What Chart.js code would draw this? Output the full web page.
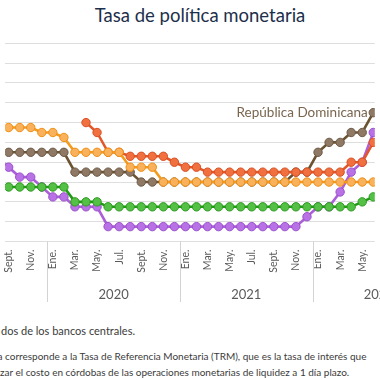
<!DOCTYPE html>
<html><head><meta charset="utf-8">
<script src="https://cdn.jsdelivr.net/npm/chart.js@4"></script>
<style>
html,body{margin:0;padding:0;background:#fff}
body{width:380px;height:380px;overflow:hidden;position:relative;font-family:Lato,"Open Sans",sans-serif}
#title{position:absolute;top:4px;left:0;width:400px;text-align:center;font-size:18.5px;line-height:22px;color:#1d2f4b;white-space:nowrap}
#wrap{position:absolute;left:0;top:0;width:380px;height:310px}
.note{position:absolute;white-space:nowrap;color:#3b3b3b;line-height:14px}
</style></head>
<body>
<div id="title">Tasa de política monetaria</div>
<div id="wrap"><canvas id="c" width="380" height="310"></canvas></div>
<div class="note" style="left:1px;top:324px;font-size:11px">dos de los bancos centrales.</div>
<div class="note" style="left:-2.5px;top:349px;font-size:10px">a corresponde a la Tasa de Referencia Monetaria (TRM), que es la tasa de interés que</div>
<div class="note" style="left:0px;top:365px;font-size:10px">zar el costo en córdobas de las operaciones monetarias de liquidez a 1 día plazo.</div>
<script>
// Months from Ago. 2019 to Jun. 2022
const monthLabels = ['Ago.','Sept.','Oct.','Nov.','Dic.',
  'Ene.','Feb.','Mar.','Abr.','May.','Jun.','Jul.','Ago.','Sept.','Oct.','Nov.','Dic.',
  'Ene.','Feb.','Mar.','Abr.','May.','Jun.','Jul.','Ago.','Sept.','Oct.','Nov.','Dic.',
  'Ene.','Feb.','Mar.','Abr.','May.','Jun.'];
const yearLabels = ['2020','2021','2022'];

const honduras = [5.75,5.75,5.75,5.75,5.5,5.5,5.25,4.5,4.5,4.5,4.5,4.5,3.75,3.75,3.75,
  3,3,3,3,3,3,3,3,3,3,3,3,3,3,3,3,3,3,3,3];
const nicaragua = [null,null,null,null,null,null,null,null,6.0,5.5,4.5,4.5,4.3,4.3,4.3,4.3,4.0,3.75,3.75,
  3.5,3.5,3.5,3.5,3.5,3.5,3.5,3.5,3.5,3.5,3.5,3.5,3.5,4.0,4.0,5.0];
const dominicana = [4.5,4.5,4.5,4.5,4.5,4.5,4.5,3.5,3.5,3.5,3.5,3.5,3.5,
  3,3,3,3,3,3,3,3,3,3,3,3,3,3,3.5,3.5,4.5,5.0,5.0,5.5,5.5,6.5];
const guatemala = [2.75,2.75,2.75,2.75,2.75,2.75,2.75,2.0,2.0,2.0,
  1.75,1.75,1.75,1.75,1.75,1.75,1.75,1.75,1.75,1.75,1.75,1.75,1.75,1.75,1.75,1.75,1.75,1.75,1.75,1.75,1.75,1.75,1.75,2.0,2.25];
const costaRica = [4.25,3.75,3.25,3.25,2.75,2.25,2.25,1.75,1.75,1.75,
  0.75,0.75,0.75,0.75,0.75,0.75,0.75,0.75,0.75,0.75,0.75,0.75,0.75,0.75,0.75,0.75,0.75,0.75,1.25,1.75,1.75,2.5,3.5,4.0,5.5];
const drLabel = 'República Dominicana';

function pts(arr){ return arr.map((v,i)=>({x:i,y:v})); }
function ds(label,arr,line,fill,border){
  return {label, data:pts(arr), borderColor:line, backgroundColor:fill, pointBackgroundColor:fill,
    pointBorderColor:border, pointBorderWidth:1, pointRadius:4.2, borderWidth:2.6, tension:0, spanGaps:false};
}

const decor = {
  id:'decor',
  afterDraw(chart){
    const ctx = chart.ctx, xs = chart.scales.x, area = chart.chartArea;
    ctx.save();
    // year separators and labels
    const janIdx = [];
    monthLabels.forEach((m,i)=>{ if(m==='Ene.') janIdx.push(i); });
    ctx.strokeStyle = '#d3d3d3'; ctx.lineWidth = 1;
    janIdx.forEach((ji,n)=>{
      const px = Math.round(xs.getPixelForValue(ji-0.5))+0.5;
      ctx.beginPath(); ctx.moveTo(px, area.bottom); ctx.lineTo(px, 302); ctx.stroke();
      ctx.fillStyle = '#5a5a5a'; ctx.font = '13px Lato'; ctx.textAlign='center'; ctx.textBaseline='alphabetic';
      ctx.fillText(yearLabels[n], xs.getPixelForValue(ji+5.5), 298.5);
    });
    // label at last point of Dominican Republic
    const meta = chart.getDatasetMeta(3);
    const last = meta.data[meta.data.length-1];
    ctx.fillStyle = '#7a654e'; ctx.font = '13.5px Lato'; ctx.textAlign='right'; ctx.textBaseline='alphabetic';
    ctx.fillText(drLabel, last.x-5.5, last.y+4.6);
    ctx.restore();
  }
};

new Chart(document.getElementById('c'), {
  type:'line',
  data:{ datasets:[
    ds('Honduras', honduras, '#f49a1c', '#f9b15c', '#ef8f12'),
    ds('Guatemala', guatemala, '#1f9a14', '#54c046', '#2b9a1e'),
    ds('Nicaragua', nicaragua, '#e2572a', '#f07040', '#d94f22'),
    ds('República Dominicana', dominicana, '#6b5230', '#8f7864', '#6c5a48'),
    ds('Costa Rica', costaRica, '#ac5fd8', '#b972e6', '#9a4fcc')
  ]},
  options:{
    responsive:false, animation:false, devicePixelRatio:1,
    layout:{padding:{top:43.3,left:0,right:0,bottom:0}},
    plugins:{legend:{display:false}, tooltip:{enabled:false}, title:{display:false}},
    scales:{
      x:{ type:'linear', min:0.6866, max:34.138,
        grid:{display:false, drawTicks:false}, border:{display:false},
        afterBuildTicks(s){ s.ticks = monthLabels.map((m,i)=>({value:i})).filter(t=>t.value>=1 && t.value<=34); },
        afterFit(s){ s.height = 68.5; s.paddingLeft = 0; s.paddingRight = 0; },
        ticks:{ autoSkip:false, minRotation:90, maxRotation:90, padding:8, color:'#5a5a5a',
          font:{family:'Lato', size:10.5},
          callback(v){ return (v%2===1) ? monthLabels[v] : ''; } }
      },
      y:{ min:0, max:10, ticks:{display:false, stepSize:1}, border:{display:false},
        grid:{color:'#dedede', lineWidth:1, drawTicks:false},
        afterFit(s){ s.width = 0; s.paddingTop = 0; s.paddingBottom = 0; }
      }
    }
  },
  plugins:[decor]
});
</script>
</body></html>
